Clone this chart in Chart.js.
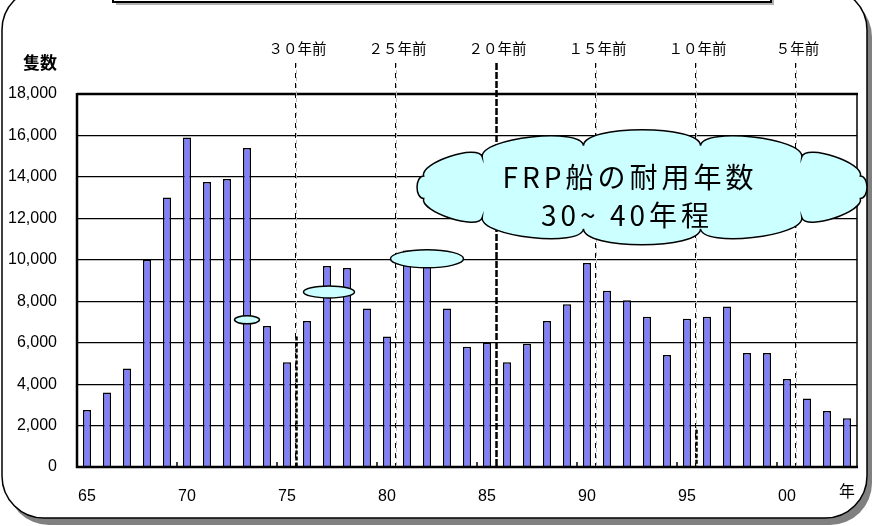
<!DOCTYPE html>
<html><head><meta charset="utf-8">
<script src="https://cdn.jsdelivr.net/npm/chart.js@4.4.0/dist/chart.umd.min.js"></script>
<style>html,body{margin:0;padding:0;background:#fff;overflow:hidden}#wrap{position:relative;width:872px;height:526px}</style>
</head><body><div id="wrap"><canvas id="c" width="872" height="526"></canvas></div>
<script>
// ---- data ----
const years = ['65','66','67','68','69','70','71','72','73','74','75','76','77','78','79','80','81','82','83','84','85','86','87','88','89','90','91','92','93','94','95','96','97','98','99','00','01','02','03'];
const boats = [2750,3600,4750,10000,13000,15900,13750,13900,15400,6800,5050,7050,9700,9600,7650,6300,10450,10100,7650,5800,6000,5050,5950,7050,7850,9850,8500,8050,7250,5400,7150,7250,7750,5500,5500,4250,3300,2700,2350];
const yTicks = [0,2000,4000,6000,8000,10000,12000,14000,16000,18000];
const xTickLabels = ['65','70','75','80','85','90','95','00'];
const agoLabels = ['３０年前','２５年前','２０年前','１５年前','１０年前','５年前'];
const agoAfterYear = ['75','80','85','90','95','00'];
const yAxisTitle = '隻数';
const xAxisUnit = '年';
const calloutLines = ['FRP船の耐用年数','30~ 40年程'];
// callout anchors in data units: [category index, value]
const cloudAnchor = [27.75, 13500];
const bubbleAnchors = [[8.0, 7100], [12.1, 8450], [17.0, 10050]];

const CJK = '"Noto Sans CJK JP"';
function rr(ctx,x,y,w,h,r){ctx.beginPath();ctx.moveTo(x+r,y);ctx.lineTo(x+w-r,y);ctx.arcTo(x+w,y,x+w,y+r,r);ctx.lineTo(x+w,y+h-r);ctx.arcTo(x+w,y+h,x+w-r,y+h,r);ctx.lineTo(x+r,y+h);ctx.arcTo(x,y+h,x,y+h-r,r);ctx.lineTo(x,y+r);ctx.arcTo(x,y,x+r,y,r);ctx.closePath();}
function cloudPath(ctx,cx,cy,rx,ry,n,k){
  ctx.beginPath();
  const ph=Math.PI/n;
  for(let i=0;i<n;i++){
    const a1=i/n*2*Math.PI+ph,a2=(i+1)/n*2*Math.PI+ph;
    const p1=[cx+rx*Math.cos(a1),cy+ry*Math.sin(a1)],p2=[cx+rx*Math.cos(a2),cy+ry*Math.sin(a2)];
    const am=(a1+a2)/2;let nx=Math.cos(am)/rx,ny=Math.sin(am)/ry;const l=Math.hypot(nx,ny);nx/=l;ny/=l;
    const d=k*Math.hypot(p2[0]-p1[0],p2[1]-p1[1])+6;
    if(i===0)ctx.moveTo(p1[0],p1[1]);
    ctx.bezierCurveTo(p1[0]+nx*d,p1[1]+ny*d,p2[0]+nx*d,p2[1]+ny*d,p2[0],p2[1]);
  }
  ctx.closePath();
}

const decor = {
  id:'decor',
  beforeDraw(chart){
    const ctx=chart.ctx;ctx.save();
    ctx.fillStyle='#fff';ctx.fillRect(0,0,872,526);
    // frame shadow + frame
    ctx.fillStyle='#808080';rr(ctx,7,-5,865,530,42);ctx.fill();
    ctx.fillStyle='#fff';rr(ctx,2,-12,865,530,42);ctx.fill();
    ctx.strokeStyle='#000';ctx.lineWidth=1.5;ctx.stroke();
    // top title box (cut off)
    ctx.fillStyle='#b0b0b0';ctx.fillRect(116,-10,658,15);
    ctx.fillStyle='#fff';ctx.fillRect(113,-10,658,12);
    ctx.lineWidth=2;ctx.strokeRect(113,-10,658,12);
    ctx.restore();
  },
  afterDatasetsDraw(chart){
    const ctx=chart.ctx,a=chart.chartArea,xs=chart.scales.x;ctx.save();
    // plot frame
    ctx.strokeStyle='#000';
    ctx.lineWidth=1.5;ctx.beginPath();ctx.moveTo(a.right,a.top);ctx.lineTo(a.right,a.bottom);ctx.stroke();
    ctx.lineWidth=2.5;ctx.beginPath();ctx.moveTo(a.left,a.top);ctx.lineTo(a.right+1,a.top);ctx.stroke();
    ctx.beginPath();ctx.moveTo(a.left,a.top-1);ctx.lineTo(a.left,a.bottom);ctx.lineTo(a.right+1,a.bottom);ctx.stroke();
    // small ticks every 5 years
    ctx.lineWidth=1.5;
    for(let i=5;i<years.length;i+=5){const x=(xs.getPixelForValue(i-1)+xs.getPixelForValue(i))/2;ctx.beginPath();ctx.moveTo(x,a.bottom);ctx.lineTo(x,a.bottom-5);ctx.stroke();}
    // "years ago" lines
    agoAfterYear.forEach((yr,j)=>{
      const i=years.indexOf(yr);
      const x=Math.round((xs.getPixelForValue(i)+xs.getPixelForValue(i+1))/2)-0.5;
      const top=a.top-31;
      if(j===2){
        ctx.strokeStyle='#000';ctx.lineWidth=2.5;ctx.setLineDash([7,2]);
        ctx.beginPath();ctx.moveTo(x,top);ctx.lineTo(x,a.bottom);ctx.stroke();
      } else {
        ctx.strokeStyle='#b8b8b8';ctx.lineWidth=1;ctx.setLineDash([4,3]);
        ctx.beginPath();ctx.moveTo(x,top);ctx.lineTo(x,a.bottom);ctx.stroke();
        ctx.strokeStyle='#000';ctx.setLineDash([5,5]);
        ctx.beginPath();ctx.moveTo(x-1,top);ctx.lineTo(x-1,a.bottom);ctx.stroke();
        if(j===0||j===4){
          const y0=j===0?chart.scales.y.getPixelForValue(6300):chart.scales.y.getPixelForValue(1800);
          ctx.lineWidth=2.5;ctx.setLineDash([4,2]);
          ctx.beginPath();ctx.moveTo(x,y0);ctx.lineTo(x,a.bottom);ctx.stroke();
        }
      }
      ctx.setLineDash([]);
      ctx.fillStyle='#000';ctx.font='14.5px '+CJK;ctx.textAlign='center';ctx.textBaseline='middle';
      ctx.fillText(agoLabels[j],x+1,a.top-46);
    });
    ctx.restore();
  },
  afterDraw(chart){
    const ctx=chart.ctx,a=chart.chartArea,xs=chart.scales.x,ys=chart.scales.y;ctx.save();
    // axis titles
    ctx.fillStyle='#000';ctx.textAlign='center';ctx.textBaseline='middle';
    ctx.font='bold 17px '+CJK;ctx.fillText(yAxisTitle,40,a.top-31);
    ctx.font='16px '+CJK;ctx.fillText(xAxisUnit,a.right-10,a.bottom+24);
    // bubbles
    const bs=[[12.5,4],[25.5,6],[36.5,9]];
    bubbleAnchors.forEach((b,i)=>{
      const x=xs.getPixelForValue(b[0]),y=ys.getPixelForValue(b[1]);
      ctx.beginPath();ctx.ellipse(x,y,bs[i][0],bs[i][1],0,0,Math.PI*2);
      ctx.fillStyle='#ccffff';ctx.fill();ctx.strokeStyle='#000';ctx.lineWidth=1.5;ctx.stroke();
    });
    // cloud
    const cx=xs.getPixelForValue(cloudAnchor[0]),cy=ys.getPixelForValue(cloudAnchor[1]);
    cloudPath(ctx,cx,cy,226,43,12,0.13);
    ctx.fillStyle='#ccffff';ctx.fill();ctx.strokeStyle='#000';ctx.lineWidth=1.5;ctx.stroke();
    ctx.fillStyle='#000';ctx.font='28px '+CJK;ctx.textAlign='center';ctx.textBaseline='middle';
    try{ctx.letterSpacing='4px';}catch(e){}
    ctx.fillText(calloutLines[0],cx-12,cy-10);
    ctx.fillText(calloutLines[1],cx-15,cy+28);
    ctx.restore();
  }
};

new Chart(document.getElementById('c'),{
  type:'bar',
  data:{labels:years,datasets:[{data:boats,backgroundColor:'#8080ff',borderColor:'#000',borderWidth:1.5,barPercentage:0.4,categoryPercentage:1}]},
  options:{
    responsive:false,animation:false,devicePixelRatio:1,
    layout:{padding:{top:94,right:15,left:0,bottom:0}},
    plugins:{legend:{display:false},tooltip:{enabled:false}},
    scales:{
      x:{type:'category',offset:true,
        grid:{display:false,drawTicks:false},border:{display:false},
        ticks:{autoSkip:false,maxRotation:0,padding:20,color:'#000',font:{family:'"Liberation Sans", Arial',size:16},
          callback:(v,i)=>xTickLabels.includes(years[i])?years[i]:''},
        afterFit:s=>{s.height=59;}},
      y:{min:0,max:18000,
        afterBuildTicks:s=>{s.ticks=yTicks.map(v=>({value:v}));},
        grid:{color:'#000',lineWidth:1.2,drawTicks:false},border:{display:false},
        ticks:{padding:20,color:'#000',font:{family:'"Liberation Sans", Arial',size:16},callback:v=>v.toLocaleString('en-US')},
        afterFit:s=>{s.width=77;}}
    }
  },
  plugins:[decor]
});
</script></body></html>
